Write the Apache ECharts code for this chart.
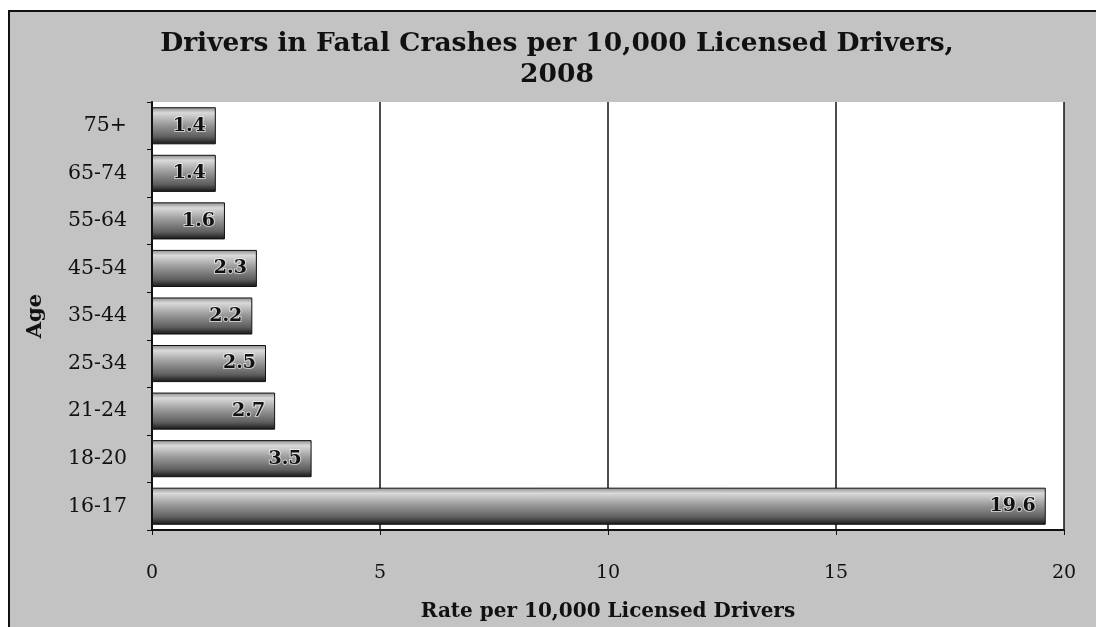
<!DOCTYPE html>
<html>
<head>
<meta charset="utf-8">
<script src="https://cdn.jsdelivr.net/npm/echarts@6/dist/echarts.min.js"></script>
<style>
  html, body { margin: 0; padding: 0; background: #fff; }
  .wrap { position: relative; width: 1096px; height: 627px; overflow: hidden; }
  .frame {
    position: absolute; left: 8px; top: 10px; width: 1100px; height: 640px;
    border: 2px solid #111; background: #c3c3c3;
  }
  #chart { position: absolute; left: 0; top: 0; width: 1096px; height: 627px; }
</style>
</head>
<body>
<div class="wrap">
  <div class="frame"></div>
  <div id="chart"></div>
</div>
<script>
// age groups, bottom to top
const ageGroups = ['16-17', '18-20', '21-24', '25-34', '35-44', '45-54', '55-64', '65-74', '75+'];
const rates = [19.6, 3.5, 2.7, 2.5, 2.2, 2.3, 1.6, 1.4, 1.4];
const xTicks = [0, 5, 10, 15, 20];

const serif = '"DejaVu Serif", "Liberation Serif", serif';

const myChart = echarts.init(document.getElementById('chart'));
myChart.setOption({
  backgroundColor: 'transparent',
  animation: false,
  title: {
    text: 'Drivers in Fatal Crashes per 10,000 Licensed Drivers,\n2008',
    left: 552,
    top: 24,
    textAlign: 'center',
    textStyle: {
      fontFamily: serif,
      fontWeight: 'bold',
      fontSize: 26.5,
      lineHeight: 31,
      color: '#111',
    },
  },
  grid: {
    left: 152,
    right: 32,
    top: 102,
    bottom: 96,
    show: true,
    backgroundColor: '#fff',
    borderWidth: 0,
  },
  xAxis: {
    type: 'value',
    min: xTicks[0],
    max: xTicks[xTicks.length - 1],
    interval: 5,
    name: 'Rate per 10,000 Licensed Drivers',
    nameLocation: 'middle',
    nameGap: 72,
    nameTextStyle: {
      fontFamily: serif,
      fontWeight: 'bold',
      fontSize: 20,
      color: '#111',
    },
    axisLine: { show: true, lineStyle: { color: '#111', width: 2 } },
    axisTick: { show: true, length: 5, lineStyle: { color: '#111' } },
    axisLabel: {
      margin: 34,
      fontFamily: serif,
      fontSize: 19,
      color: '#111',
    },
    splitLine: { show: true, lineStyle: { color: '#111', width: 1.5 } },
  },
  yAxis: {
    type: 'category',
    data: ageGroups,
    name: 'Age',
    nameLocation: 'middle',
    nameRotate: 90,
    nameGap: 106,
    nameTextStyle: {
      fontFamily: serif,
      fontWeight: 'bold',
      fontSize: 21,
      color: '#111',
    },
    axisLine: { show: true, lineStyle: { color: '#111', width: 2 } },
    axisTick: { show: true, length: 5, lineStyle: { color: '#111' } },
    axisLabel: {
      margin: 25,
      fontFamily: serif,
      fontSize: 20.5,
      color: '#111',
    },
  },
  series: [
    {
      type: 'bar',
      data: rates,
      barCategoryGap: '22%',
      itemStyle: {
        borderColor: '#111',
        borderWidth: 1,
        color: new echarts.graphic.LinearGradient(0, 0, 0, 1, [
          { offset: 0, color: '#8a8a8a' },
          { offset: 0.15, color: '#dadada' },
          { offset: 0.45, color: '#9c9c9c' },
          { offset: 0.8, color: '#5e5e5e' },
          { offset: 1, color: '#151515' },
        ]),
      },
      label: {
        show: true,
        position: 'insideRight',
        distance: 10,
        fontFamily: serif,
        fontWeight: 'bold',
        fontSize: 19,
        color: '#111',
        textBorderColor: 'rgba(255,255,255,0.6)',
        textBorderWidth: 2,
      },
    },
  ],
});
</script>
</body>
</html>
